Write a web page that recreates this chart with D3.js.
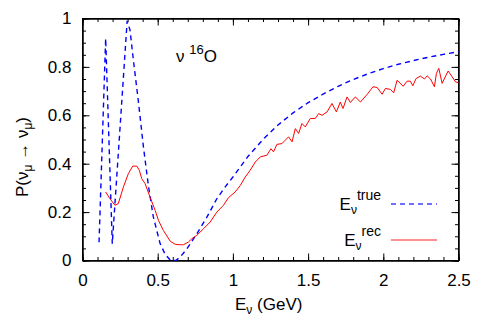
<!DOCTYPE html>
<html>
<head>
<meta charset="utf-8">
<script src="https://cdn.jsdelivr.net/npm/d3@7"></script>
<style>
  body { margin: 0; background: #fff; }
  svg text { font-family: "Liberation Sans", Arial, Helvetica, sans-serif; fill: #000; }
  .axis path, .axis line { stroke: #000; stroke-width: 1; }
</style>
</head>
<body>
<script>
var width = 483;
var height = 325;

// E_true curve (blue dashed)
var trueE = [0.110, 0.154, 0.198, 0.297, 0.316, 0.338, 0.371, 0.405, 0.438, 0.471,
  0.516, 0.55, 0.583, 0.62, 0.649, 0.694, 0.76, 0.827, 0.893, 0.95,
  1.0, 1.1, 1.2, 1.3, 1.4, 1.5, 1.6, 1.7, 1.8, 1.9,
  2.0, 2.1, 2.2, 2.3, 2.4, 2.5];
var trueP = [0.075, 0.918, 0.069, 0.99, 0.952, 0.83, 0.66, 0.47, 0.31, 0.18,
  0.07, 0.025, 0.002, 0.0, 0.014, 0.048, 0.11, 0.179, 0.255, 0.305,
  0.345, 0.43, 0.5, 0.56, 0.61, 0.652, 0.688, 0.72, 0.748, 0.772,
  0.793, 0.811, 0.826, 0.84, 0.852, 0.863];

// E_rec curve (red solid)
var recE = [0.154, 0.183, 0.216, 0.238, 0.272, 0.305, 0.334, 0.361, 0.378, 0.394,
  0.416, 0.449, 0.483, 0.505, 0.538, 0.583, 0.616, 0.649, 0.671, 0.704,
  0.727, 0.76, 0.804, 0.849, 0.893, 0.937, 0.971, 1.015, 1.049, 1.082,
  1.115, 1.149, 1.182, 1.226, 1.253, 1.27, 1.293, 1.326, 1.348, 1.37,
  1.393, 1.415, 1.437, 1.459, 1.481, 1.515, 1.548, 1.57, 1.593, 1.626,
  1.659, 1.688, 1.714, 1.732, 1.759, 1.781, 1.814, 1.848, 1.892, 1.932,
  1.959, 1.992, 2.014, 2.047, 2.069, 2.092, 2.132, 2.158, 2.18, 2.196,
  2.218, 2.247, 2.274, 2.292, 2.314, 2.34, 2.353, 2.369, 2.391, 2.431,
  2.458, 2.48, 2.5];
var recP = [0.283, 0.255, 0.228, 0.235, 0.304, 0.359, 0.39, 0.39, 0.373, 0.338,
  0.318, 0.262, 0.207, 0.166, 0.124, 0.08, 0.067, 0.065, 0.065, 0.076,
  0.09, 0.104, 0.131, 0.159, 0.2, 0.228, 0.26, 0.283, 0.31, 0.345,
  0.373, 0.407, 0.428, 0.435, 0.462, 0.449, 0.48, 0.483, 0.497, 0.511,
  0.49, 0.545, 0.525, 0.566, 0.552, 0.587, 0.587, 0.607, 0.6, 0.614,
  0.649, 0.614, 0.655, 0.628, 0.676, 0.653, 0.676, 0.655, 0.686, 0.718,
  0.715, 0.687, 0.711, 0.707, 0.693, 0.745, 0.72, 0.741, 0.741, 0.722,
  0.752, 0.762, 0.75, 0.763, 0.75, 0.718, 0.773, 0.794, 0.732, 0.783,
  0.759, 0.738, 0.735];

// ticks
var xTicks = [0, 0.5, 1, 1.5, 2, 2.5];
var xTickLabels = ["0", "0.5", "1", "1.5", "2", "2.5"];
var yTicks = [0, 0.2, 0.4, 0.6, 0.8, 1];
var yTickLabels = ["0", "0.2", "0.4", "0.6", "0.8", "1"];

// plot box (window.top is reserved, so use other names)
var plotL = 82.5, plotR = 458.5, plotT = 18.5, plotB = 260.5;

var x = d3.scaleLinear().domain([0, 2.5]).range([plotL, plotR]);
var y = d3.scaleLinear().domain([0, 1]).range([plotB, plotT]);

var svg = d3.select("body").append("svg")
  .attr("width", width)
  .attr("height", height);

var xMinor = d3.range(0, 26).map(function (i) { return i / 10; });
var yMinor = d3.range(0, 21).map(function (i) { return i / 20; });

function fmt(labels, ticks) {
  return function (d) { return labels[ticks.indexOf(d)]; };
}

// minor ticks on all four sides
svg.append("g").attr("class", "axis").attr("transform", "translate(0," + plotB + ")")
  .call(d3.axisBottom(x).tickValues(xMinor).tickSize(-3.5).tickFormat(""));
svg.append("g").attr("class", "axis").attr("transform", "translate(0," + plotT + ")")
  .call(d3.axisTop(x).tickValues(xMinor).tickSize(-3.5).tickFormat(""));
svg.append("g").attr("class", "axis").attr("transform", "translate(" + plotL + ",0)")
  .call(d3.axisLeft(y).tickValues(yMinor).tickSize(-3.5).tickFormat(""));
svg.append("g").attr("class", "axis").attr("transform", "translate(" + plotR + ",0)")
  .call(d3.axisRight(y).tickValues(yMinor).tickSize(-3.5).tickFormat(""));

// major ticks + labels
svg.append("g").attr("class", "axis").attr("transform", "translate(0," + plotB + ")")
  .call(d3.axisBottom(x).tickValues(xTicks).tickSizeInner(-7).tickSizeOuter(0)
    .tickPadding(13).tickFormat(fmt(xTickLabels, xTicks)));
svg.append("g").attr("class", "axis").attr("transform", "translate(0," + plotT + ")")
  .call(d3.axisTop(x).tickValues(xTicks).tickSizeInner(-7).tickSizeOuter(0).tickFormat(""));
svg.append("g").attr("class", "axis").attr("transform", "translate(" + plotL + ",0)")
  .call(d3.axisLeft(y).tickValues(yTicks).tickSizeInner(-7).tickSizeOuter(0)
    .tickPadding(11).tickFormat(fmt(yTickLabels, yTicks)));
svg.append("g").attr("class", "axis").attr("transform", "translate(" + plotR + ",0)")
  .call(d3.axisRight(y).tickValues(yTicks).tickSizeInner(-7).tickSizeOuter(0).tickFormat(""));

svg.selectAll(".axis").attr("font-size", null).attr("font-family", null);
svg.selectAll(".axis text").style("font-size", "17px");

// frame
svg.append("rect")
  .attr("x", plotL).attr("y", plotT)
  .attr("width", plotR - plotL).attr("height", plotB - plotT)
  .attr("fill", "none").attr("stroke", "#000");

var line = d3.line()
  .x(function (d) { return x(d[0]); })
  .y(function (d) { return y(d[1]); });

var trueData = trueE.map(function (e, i) { return [e, trueP[i]]; });
var recData = recE.map(function (e, i) { return [e, recP[i]]; });

svg.append("path")
  .datum(trueData)
  .attr("d", line)
  .attr("fill", "none")
  .attr("stroke", "#0000ff")
  .attr("stroke-width", 1.4)
  .attr("stroke-dasharray", "5,4");

svg.append("path")
  .datum(recData)
  .attr("d", line)
  .attr("fill", "none")
  .attr("stroke", "#ff0000")
  .attr("stroke-width", 1);

// label inside the plot: nu 16O
var lab = svg.append("text").attr("x", 176).attr("y", 62).style("font-size", "17px");
lab.append("tspan").text("ν ");
lab.append("tspan").attr("dy", -8).style("font-size", "13px").text("16");
lab.append("tspan").attr("dy", 8).text("O");

// x axis title
var xt = svg.append("text").attr("x", 235).attr("y", 310).style("font-size", "17px");
xt.append("tspan").text("E");
xt.append("tspan").attr("dy", 4).style("font-size", "12px").text("ν");
xt.append("tspan").attr("dy", -4).text(" (GeV)");

// y axis title
var yt = svg.append("text")
  .attr("transform", "translate(28,157) rotate(-90)")
  .attr("text-anchor", "middle")
  .style("font-size", "17px");
yt.append("tspan").text("P(ν");
yt.append("tspan").attr("dy", 4).style("font-size", "12px").text("μ");
yt.append("tspan").attr("dy", -4).text(" → ν");
yt.append("tspan").attr("dy", 4).style("font-size", "12px").text("μ");
yt.append("tspan").attr("dy", -4).text(")");

// legend
var legend = [
  { main: "E", sub: "ν", sup: "true", y: 210, color: "#7070ff", dash: "5,4" },
  { main: "E", sub: "ν", sup: "rec", y: 246, color: "#ff9090", dash: null }
];
legend.forEach(function (d) {
  var t = svg.append("text").attr("x", 381).attr("y", d.y)
    .attr("text-anchor", "end").style("font-size", "17px");
  t.append("tspan").text(d.main);
  t.append("tspan").attr("dy", 4).style("font-size", "12px").text(d.sub);
  t.append("tspan").attr("dy", -14).style("font-size", "14px").text(d.sup);
  svg.append("line")
    .attr("x1", 391).attr("x2", 437)
    .attr("y1", d.y - 6).attr("y2", d.y - 6)
    .attr("stroke", d.color)
    .attr("stroke-width", 2)
    .attr("stroke-dasharray", d.dash);
});
</script>
</body>
</html>
